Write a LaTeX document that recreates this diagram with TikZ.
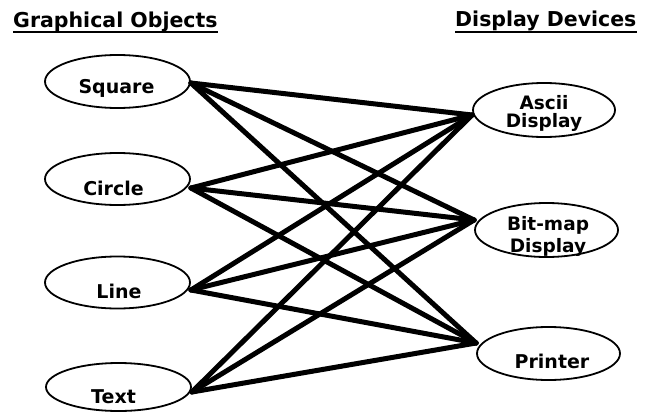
\documentclass[tikz,border=0pt]{standalone}
\usepackage{fontspec}
\setmainfont{DejaVu Sans}
\usetikzlibrary{shapes.geometric}
\begin{document}
\begin{tikzpicture}[x=1pt,y=1pt,
  obj/.style={ellipse,draw,line width=1.8pt,minimum width=145pt,minimum height=52pt,inner sep=0pt},
  lbl/.style={anchor=base,inner sep=0pt,font=\fontsize{19}{22}\bfseries\selectfont},
  lbl2/.style={anchor=base,inner sep=0pt,align=center},
  ttl/.style={anchor=base west,inner sep=0pt,font=\fontsize{20.5}{24}\bfseries\selectfont},
  link/.style={line width=5pt,line cap=round}]
\useasboundingbox (0,0) rectangle (655,-412);
% titles
\node[ttl] (t1) at (13,-28) {Graphical Objects};
\node[ttl] (t2) at (455,-27) {Display Devices};
\draw[line width=2pt] ([yshift=-4pt]t1.base west) -- ([yshift=-4pt]t1.base east);
\draw[line width=2pt] ([yshift=-5pt]t2.base west) -- ([yshift=-5pt]t2.base east);
% left ellipses
\node[obj,minimum height=53pt] (sq) at (117.5,-81.5) {};
\node[obj] (ci) at (117.5,-179) {};
\node[obj] (li) at (117.5,-282.5) {};
\node[obj,minimum height=48pt] (te) at (118.5,-387) {};
\node[lbl] (sqt) at (116.5,-93) {Square};
\node[lbl] (cit) at (113.5,-195) {Circle};
\node[lbl] (lit) at (119,-298) {Line};
\node[lbl] (tet) at (113.5,-403) {Text};
% right ellipses
\node[obj,minimum width=142pt,minimum height=54pt] (as) at (544,-110) {};
\node[obj,minimum width=143pt,minimum height=54pt] (bi) at (546.5,-230) {};
\node[obj,minimum width=143pt,minimum height=53pt] (pr) at (548.5,-353.5) {};
\node[lbl2,font=\fontsize{18.5}{17.5}\bfseries\selectfont] (ast) at (544,-127) {Ascii\\Display};
\node[lbl2,font=\fontsize{18.5}{22}\bfseries\selectfont] (bit) at (548,-252) {Bit-map\\Display};
\node[lbl] (prt) at (552,-368) {Printer};
% attach points
\coordinate (sqp) at ([yshift=-1.5pt]sq.east);
\coordinate (cip) at ([yshift=-9pt]ci.east);
\coordinate (lip) at ([yshift=-7.5pt]li.east);
\coordinate (tep) at ([yshift=-5pt]te.east);
\coordinate (asp) at ([yshift=-5pt]as.west);
\coordinate (bip) at ([yshift=10pt]bi.west);
\coordinate (prp) at ([yshift=10.5pt]pr.west);
% links
\foreach \a in {sqp,cip,lip,tep}
  \foreach \b in {asp,bip,prp}
    \draw[link] (\a) -- (\b);
\end{tikzpicture}
\end{document}
